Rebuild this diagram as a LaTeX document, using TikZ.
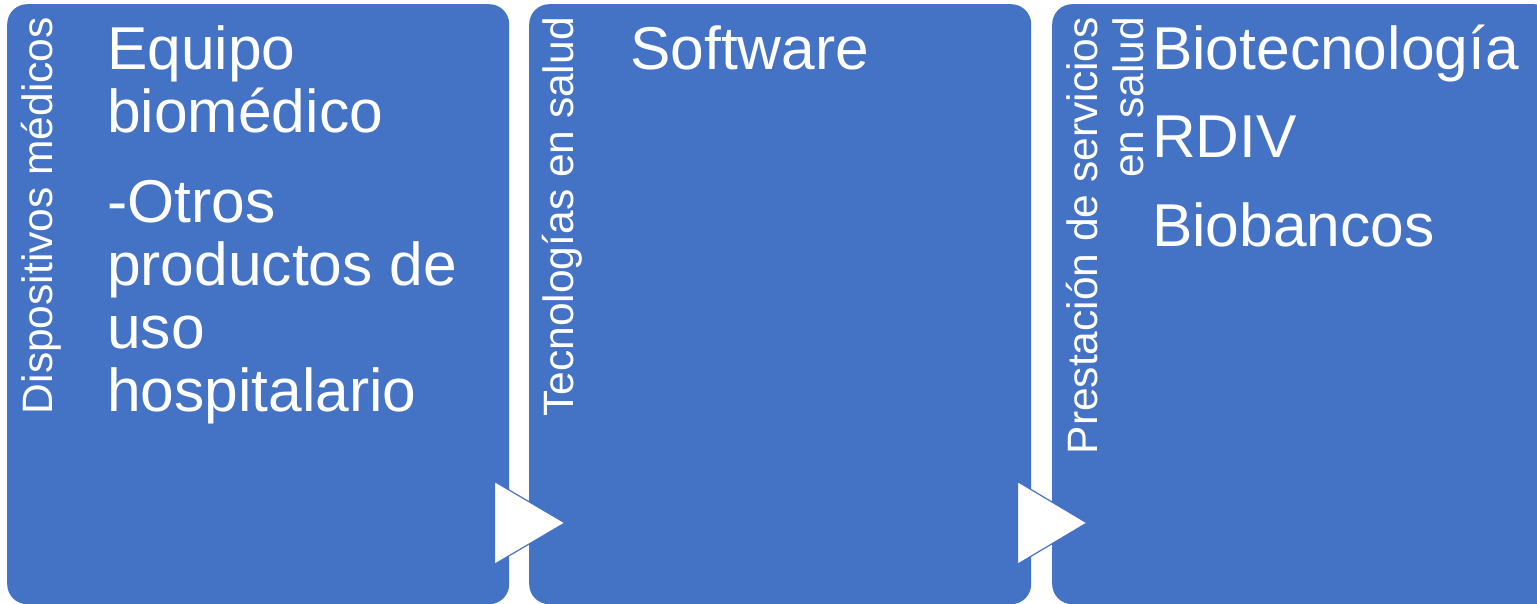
\documentclass[tikz,border=0pt]{standalone}
\usepackage{fontspec}
\setmainfont{Liberation Sans}
\usetikzlibrary{calc}
\definecolor{boxblue}{HTML}{4472C4}

\begin{document}
\begin{tikzpicture}[x=1pt,y=1pt,
    box/.style={fill=boxblue, rounded corners=20pt, minimum width=502pt, minimum height=600pt, inner sep=0pt, anchor=north west},
    side/.style={rotate=90, anchor=base east, inner sep=0pt, text=white, align=right, font=\fontsize{42.5}{46}\selectfont},
    item/.style={anchor=base west, inner sep=0pt, text=white, align=left, font=\fontsize{60.5}{63}\selectfont},
    tip/.style={fill=white, draw=boxblue, line width=1.2pt}]
      \useasboundingbox (0,0) rectangle (1537,-604);
      \clip (0,0) rectangle (1537,-604);
      \node[box] (1) at (7,-4) {};
      \node[box] (2) at (529,-4) {};
      \node[box] (3) at (1052,-4) {};
      % side labels
      \node[side] (1s) at (52,-17) {Dispositivos médicos};
      \node[side] (2s) at (573,-17) {Tecnologías en salud};
      \node[side] (3s) at (1143,-17) {Prestación de servicios\\en salud};
      % items (base = last line)
      \node[item] (11) at (107,-133) {Equipo\\biomédico};
      \node[item] (12) at (107,-411) {-Otros\\productos de\\uso\\hospitalario};
      \node[item] (21) at (630,-70) {Software};
      \node[item] (31) at (1152,-70) {Biotecnología};
      \node[item] (32) at (1152,-158) {RDIV};
      \node[item] (33) at (1152,-247) {Biobancos};
      % arrows between boxes
      \draw[tip] ($(1.south east)+(-15,123)$) -- ($(2.south west)+(36,81.5)$) -- ($(1.south east)+(-15,40)$) -- cycle;
      \draw[tip] ($(2.south east)+(-14,123)$) -- ($(3.south west)+(35,81.5)$) -- ($(2.south east)+(-14,40)$) -- cycle;
    \end{tikzpicture}
\end{document}
